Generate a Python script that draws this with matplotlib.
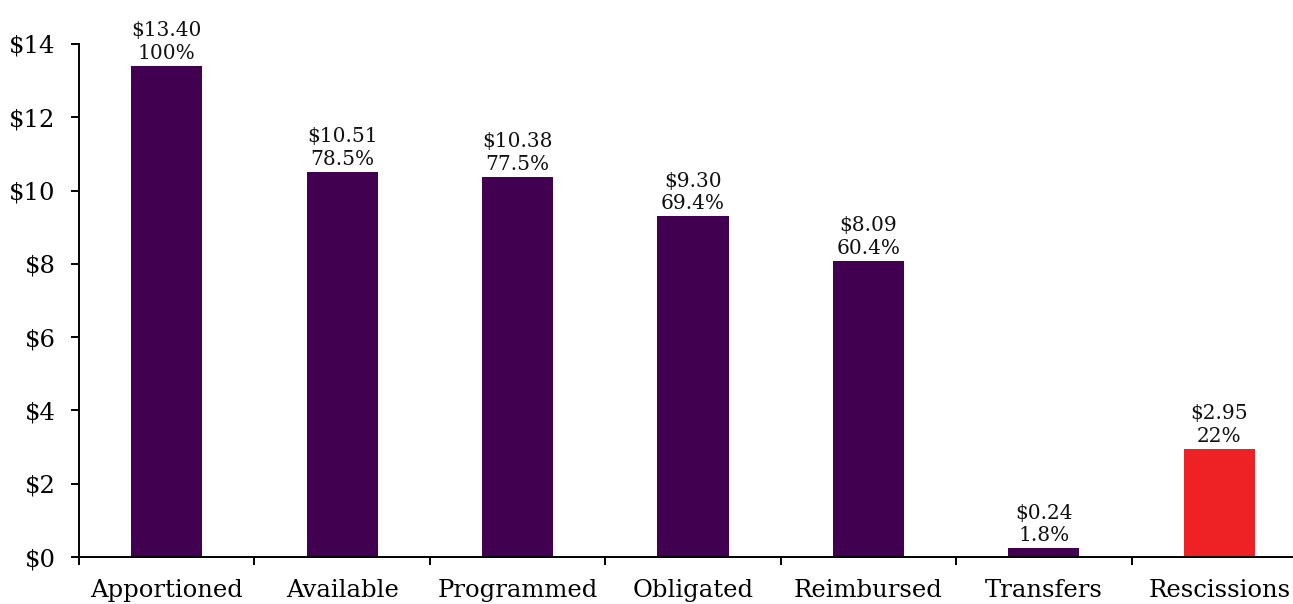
import matplotlib

matplotlib.use("Agg")
import matplotlib.pyplot as plt
import numpy as np

CATEGORIES = ["Apportioned", "Available", "Programmed", "Obligated",
              "Reimbursed", "Transfers", "Rescissions"]
AMOUNTS = [13.40, 10.51, 10.38, 9.30, 8.09, 0.24, 2.95]
PCT_LABELS = ["100%", "78.5%", "77.5%", "69.4%", "60.4%", "1.8%", "22%"]
Y_TICKS = [0, 2, 4, 6, 8, 10, 12, 14]

PURPLE, RED = "#420050", "#ee2224"
colors = [PURPLE] * (len(CATEGORIES) - 1) + [RED]

plt.rcParams["font.family"] = ["DejaVu Serif"]

fig = plt.figure(figsize=(12.93, 6.04), dpi=100)
# axis runs past the right edge of the picture, as in the original crop
ax = fig.add_axes([79 / 1293, 47 / 604, 1228 / 1293, 513 / 604])

x = np.arange(len(CATEGORIES))
ax.bar(x, AMOUNTS, width=0.405, color=colors)

for xi, amt, pct in zip(x, AMOUNTS, PCT_LABELS):
    ax.annotate(f"${amt:.2f}\n{pct}", (xi, amt), xytext=(0, 2),
                textcoords="offset points", ha="center", va="bottom",
                fontsize=14.5, linespacing=1.25, color="#111111")

ax.set_xlim(-0.5, len(CATEGORIES) - 0.5)
ax.set_ylim(0, 14)
ax.set_yticks(Y_TICKS)
ax.set_yticklabels([f"${v}" for v in Y_TICKS], fontsize=17.5)
ax.set_xticks(x)
ax.set_xticklabels(CATEGORIES, fontsize=17.5)
ax.tick_params(axis="x", which="major", length=0, pad=16)
ax.set_xticks(np.arange(len(CATEGORIES)) - 0.5, minor=True)
ax.tick_params(axis="x", which="minor", length=6, width=1.4, direction="out")
ax.tick_params(axis="y", length=6, width=1.4, pad=11)

for side in ("top", "right"):
    ax.spines[side].set_visible(False)
for side in ("left", "bottom"):
    ax.spines[side].set_linewidth(1.4)

fig.savefig("out.png", dpi=100)
